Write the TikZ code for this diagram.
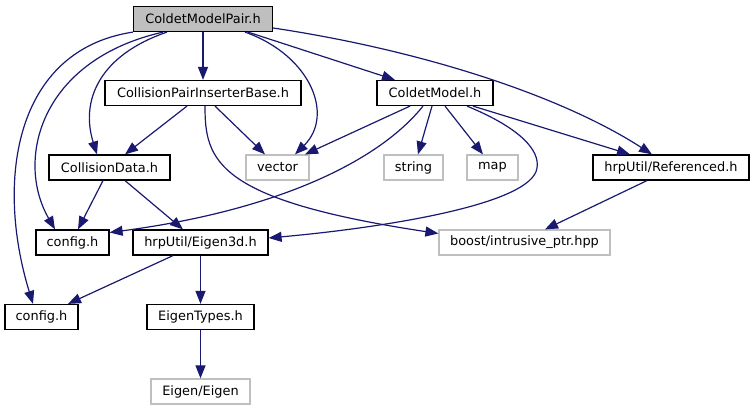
\documentclass[tikz,border=0pt]{standalone}
\usepackage{fontspec}
\setmainfont{DejaVu Sans}
\usetikzlibrary{arrows.meta,calc}
\definecolor{edgec}{HTML}{191970}
\definecolor{grayb}{HTML}{BFBFBF}
\begin{document}
\begin{tikzpicture}[x=1pt,y=-1pt,
  box/.style={draw=black,line width=1.2pt,minimum height=25pt,inner sep=0pt,font=\fontsize{12.9}{15}\selectfont},
  ext/.style={box,draw=grayb},
  edge/.style={draw=edgec,line width=1.2pt,-{Triangle[length=13pt,width=10pt]}}]
\useasboundingbox (0,0) rectangle (755,411);
% nodes
\node[box,fill=grayb,minimum width=139pt] (main) at (203,19) {ColdetModelPair.h};
\node[box,minimum width=196pt] (cpib) at (203,93) {CollisionPairInserterBase.h};
\node[box,minimum width=116pt] (cm) at (435,93) {ColdetModel.h};
\node[box,minimum width=121pt] (cd) at (109.5,167.5) {CollisionData.h};
\node[ext,minimum width=63pt] (vec) at (277.5,167.5) {vector};
\node[ext,minimum width=59pt] (str) at (413.5,167.5) {string};
\node[ext,minimum width=51pt] (map) at (492.5,167.5) {map};
\node[box,minimum width=156pt] (ref) at (671,167.5) {hrpUtil/Referenced.h};
\node[box,minimum width=73pt] (cfga) at (72.5,242.5) {config.h};
\node[box,minimum width=135pt] (e3d) at (200.5,242.5) {hrpUtil/Eigen3d.h};
\node[ext,minimum width=171pt] (boost) at (524.5,242.5) {boost/intrusive\_ptr.hpp};
\node[box,minimum width=73pt] (cfgb) at (41.5,317) {config.h};
\node[box,minimum width=107pt] (et) at (200.5,317) {EigenTypes.h};
\node[ext,minimum width=99pt] (eig) at (200.5,391.5) {Eigen/Eigen};
% edges from main
\draw[edge] (main) -- (cpib);
\draw[edge] ($(main.south)+(45,0)$) -- ($(cm.north)+(-40,0)$);
\draw[edge] ($(main.east)+(0,9)$) .. controls (420,50) and (560,95) .. ($(ref.north)+(-19,0)$);
\draw[edge] ($(main.south)+(42,0)$) .. controls (310,55) and (335,115) .. ($(vec.north)+(17.5,0)$);
\draw[edge] ($(main.south)+(-36,0)$) .. controls (100,55) and (80,100) .. ($(cd.north)+(-12.5,0)$);
\draw[edge] ($(main.south)+(-40,0)$) .. controls (40,60) and (15,160) .. ($(cfga.north)+(-17.5,0)$);
\draw[edge] (main.south west) .. controls (15,50) and (-5,180) .. ($(cfgb.north)+(-8.5,0)$);
% edges from cpib
\draw[edge] ($(cpib.south)+(-16,0)$) -- ($(cd.north)+(15.5,0)$);
\draw[edge] ($(cpib.south)+(12,0)$) -- ($(vec.north)+(-12.5,0)$);
\draw[edge] ($(cpib.south)+(2,0)$) .. controls (205,160) and (215,200) .. ($(boost.west)+(0,-9)$);
% edges from cm
\draw[edge] ($(cm.south)+(-25,0)$) -- ($(vec.north)+(27.5,0)$);
\draw[edge] ($(cm.south)+(-12,0)$) .. controls (380,160) and (280,210) .. ($(cfga.east)+(0,-10)$);
\draw[edge] ($(cm.south)+(-3,0)$) -- ($(str.north)+(4.5,0)$);
\draw[edge] ($(cm.south)+(10,0)$) -- ($(map.north)+(-9.5,0)$);
\draw[edge] ($(cm.south)+(32,0)$) .. controls (520,128) and (540,150) .. (537,168)
  .. controls (532,205) and (380,228) .. ($(e3d.east)+(0,-4.5)$);
\draw[edge] ($(cm.south)+(38,0)$) -- ($(ref.north)+(-41,0)$);
% others
\draw[edge] ($(cd.south)+(-6.5,0)$) -- ($(cfga.north)+(5.5,0)$);
\draw[edge] ($(cd.south)+(15.5,0)$) -- ($(e3d.north)+(-17.5,0)$);
\draw[edge] ($(ref.south)+(-24,0)$) -- ($(boost.north)+(20.5,0)$);
\draw[edge] ($(e3d.south)+(-27.5,0)$) -- ($(cfgb.north)+(26.5,0)$);
\draw[edge] (e3d) -- (et);
\draw[edge] (et) -- (eig);
\end{tikzpicture}
\end{document}
